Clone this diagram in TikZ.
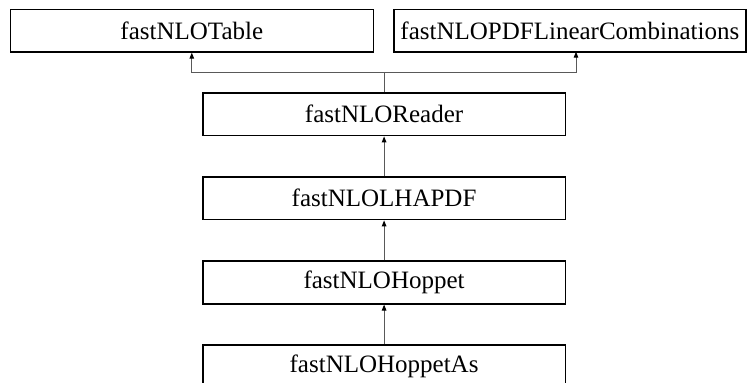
\documentclass[tikz,border=0pt]{standalone}
\usepackage{fontspec}
\setmainfont{Liberation Serif}
\usetikzlibrary{arrows.meta}
\begin{document}
\begin{tikzpicture}[x=1pt,y=-1pt,
  cls/.style={draw=black,line width=1.6pt,fill=white,rectangle,inner sep=0pt,
    minimum height=42.5pt,font=\fontsize{25}{28}\selectfont,text=black},
  conn/.style={draw=black!65,line width=1pt,-{Triangle[length=6pt,width=4.5pt,fill=black,color=black]}},
  trunk/.style={draw=black!65,line width=1pt}]
\useasboundingbox (0,0) rectangle (748,383);
\node[cls,minimum width=363pt] (table) at (191.8,30.6) {fastNLOTable};
\node[cls,minimum width=351.7pt] (pdf) at (569.9,30.6) {fastNLOPDFLinearCombinations};
\node[cls,minimum width=362.8pt] (reader) at (384.1,114.3) {fastNLOReader};
\node[cls,minimum width=362.8pt] (lhapdf) at (384.1,198.3) {fastNLOLHAPDF};
\node[cls,minimum width=362.8pt] (hoppet) at (384.1,282.5) {fastNLOHoppet};
\node[cls,minimum width=362.8pt] (hoppetas) at (384.1,366.5) {fastNLOHoppetAs};
\coordinate (j) at (384.1,72.7);
\coordinate (pa) at (576,51.7);
\draw[trunk] (reader.north) -- (j);
\draw[conn] (j) -| (table.south);
\draw[conn] (j) -| (pa);
\draw[conn] (lhapdf.north) -- (reader.south);
\draw[conn] (hoppet.north) -- (lhapdf.south);
\draw[conn] (hoppetas.north) -- (hoppet.south);
\end{tikzpicture}
\end{document}
